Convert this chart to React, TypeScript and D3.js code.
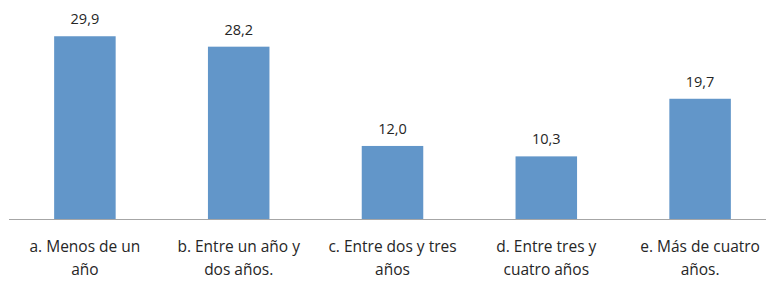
import React from "react";
import { scaleBand, scaleLinear } from "d3";

const categories = [
  ["a. Menos de un", "año"],
  ["b. Entre un año y", "dos años."],
  ["c. Entre dos y tres", "años"],
  ["d. Entre tres y", "cuatro años"],
  ["e. Más de cuatro", "años."],
];
const values = [29.9, 28.2, 12.0, 10.3, 19.7];
const valueLabels = ["29,9", "28,2", "12,0", "10,3", "19,7"];

const W = 766;
const H = 285;
const font = "'Open Sans', 'Liberation Sans', sans-serif";

function Bars({ scaleX, scaleY, baseline }) {
  return (
    <>
      {values.map((v, i) => (
        <rect
          key={`bar-${i}`}
          x={scaleX(String(i))}
          y={scaleY(v)}
          width={scaleX.bandwidth()}
          height={baseline - scaleY(v)}
          fill="#6296c9"
        />
      ))}
    </>
  );
}

export default function App() {
  const baseline = 219.5;
  const scaleX = scaleBand()
    .domain(values.map((_, i) => String(i)))
    .range([8, 777])
    .paddingInner(0.6)
    .paddingOuter(0.3);
  const scaleY = scaleLinear().domain([0, 35]).range([baseline, 5]);

  return (
    <svg width={W} height={H} style={{ position: "absolute", left: 0, top: 0 }}>
      <Bars scaleX={scaleX} scaleY={scaleY} baseline={baseline} />
      <line x1={9} x2={W} y1={baseline} y2={baseline} stroke="#a6a6a6" strokeWidth={1.2} />
      {values.map((v, i) => (
        <text
          key={`val-${i}`}
          x={scaleX(String(i)) + scaleX.bandwidth() / 2}
          y={scaleY(v) - 12}
          textAnchor="middle"
          fontFamily={font}
          fontSize={14.5}
          fontWeight={500}
          fill="#262626"
        >
          {valueLabels[i]}
        </text>
      ))}
      {categories.map((lines, i) => (
        <text
          key={`cat-${i}`}
          x={scaleX(String(i)) + scaleX.bandwidth() / 2}
          textAnchor="middle"
          fontFamily={font}
          fontSize={15.5}
          fontWeight={500}
          fill="#262626"
        >
          {lines.map((l, j) => (
            <tspan key={j} x={scaleX(String(i)) + scaleX.bandwidth() / 2} y={252 + j * 23}>
              {l}
            </tspan>
          ))}
        </text>
      ))}
    </svg>
  );
}
